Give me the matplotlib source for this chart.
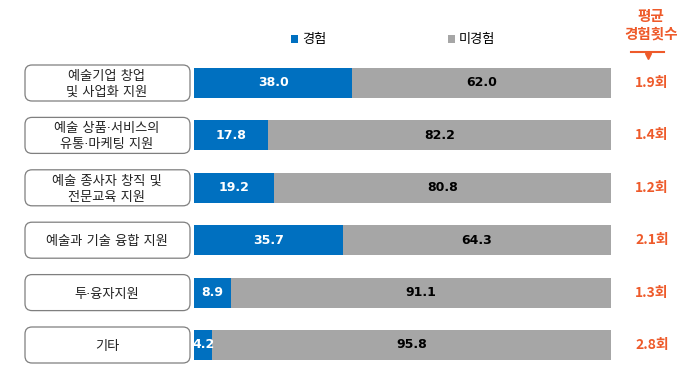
import matplotlib
matplotlib.use("Agg")
import matplotlib.pyplot as plt
from matplotlib.patches import FancyBboxPatch, Patch
from matplotlib.lines import Line2D

plt.rcParams['font.family'] = ['Noto Sans CJK KR', 'DejaVu Sans']

categories = ["예술기업 창업\n및 사업화 지원", "예술 상품·서비스의\n유통·마케팅 지원", "예술 종사자 창직 및\n전문교육 지원",
              "예술과 기술 융합 지원", "투·융자지원", "기타"]
experienced = [38.0, 17.8, 19.2, 35.7, 8.9, 4.2]
not_experienced = [62.0, 82.2, 80.8, 64.3, 91.1, 95.8]
avg_counts = ["1.9회", "1.4회", "1.2회", "2.1회", "1.3회", "2.8회"]

BLUE = "#0070c0"
GRAY = "#a6a6a6"
ORANGE = "#ee5a2a"

W, H = 700, 392
fig = plt.figure(figsize=(7, 3.92), dpi=100)

row_px = 52.4
top_px = 83 - row_px / 2
bot_px = 345 + row_px / 2

def fx(px):
    return px / W

def fy(py):
    return 1 - py / H

# bar axes
ax = fig.add_axes([fx(194), fy(bot_px), fx(611) - fx(194), fy(top_px) - fy(bot_px)])
ys = list(range(len(categories)))
ax.barh(ys, experienced, height=0.57, color=BLUE, label="경험")
ax.barh(ys, not_experienced, left=experienced, height=0.57, color=GRAY, label="미경험")
ax.set_xlim(0, 100)
ax.set_ylim(len(categories) - 0.5, -0.5)
ax.axis("off")

for y, e, n in zip(ys, experienced, not_experienced):
    ex = e / 2 if e > 6 else e / 2 + 0.3
    ax.text(ex, y, f"{e:.1f}", ha="center", va="center", color="white",
            fontsize=9, fontweight="bold", family="DejaVu Sans")
    ax.text(e + n / 2, y, f"{n:.1f}", ha="center", va="center", color="black",
            fontsize=9, fontweight="bold", family="DejaVu Sans")

# label boxes axes
lax = fig.add_axes([0, fy(bot_px), fx(194), fy(top_px) - fy(bot_px)])
lax.set_xlim(0, 194)
lax.set_ylim(len(categories) - 0.5, -0.5)
lax.axis("off")
bh = 36 / row_px
for y, cat in zip(ys, categories):
    box = FancyBboxPatch((25, y - bh / 2), 165, bh, boxstyle="round,pad=0,rounding_size=7",
                         mutation_aspect=1 / row_px, facecolor="white", edgecolor="#7f7f7f", linewidth=0.9)
    lax.add_patch(box)
    lax.text(107, y + 0.03, cat, ha="center", va="center", fontsize=9.5, linespacing=1.3, color="#222222",
             family=['DejaVu Sans', 'Noto Sans CJK KR'])

# right column
rax = fig.add_axes([fx(611), fy(bot_px), 1 - fx(611), fy(top_px) - fy(bot_px)])
rax.set_xlim(611, 700)
rax.set_ylim(len(categories) - 0.5, -0.5)
rax.axis("off")
for y, c in zip(ys, avg_counts):
    rax.text(652, y, c, ha="center", va="center", fontsize=10, fontweight="bold", color=ORANGE)

fig.text(fx(651), fy(24.5), "평균\n경험횟수", ha="center", va="center", fontsize=10.5, fontweight="bold",
         color=ORANGE, linespacing=1.15)
fig.add_artist(Line2D([fx(631), fx(664)], [fy(52), fy(52)], color=ORANGE, linewidth=1.5))
fig.add_artist(Line2D([fx(647.5)], [fy(56)], marker="v", markersize=5, color=ORANGE, linestyle="none"))

handles = [Patch(facecolor=BLUE), Patch(facecolor=GRAY)]
fig.legend(handles, ["경험", "미경험"], loc="center", bbox_to_anchor=(fx(393), fy(40)), ncol=2,
           frameon=False, fontsize=9.5, handlelength=0.55, handleheight=0.55, handletextpad=0.3,
           columnspacing=9.2)

fig.savefig("out.png", dpi=100, facecolor="white")
